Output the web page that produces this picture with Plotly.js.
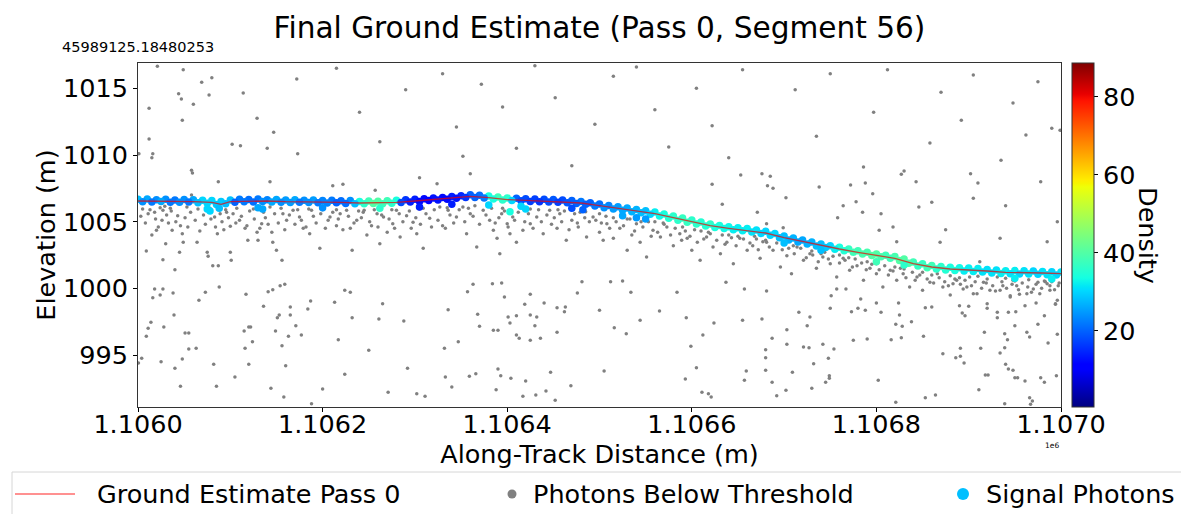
<!DOCTYPE html>
<html><head><meta charset="utf-8">
<script src="https://cdn.plot.ly/plotly-3.0.1.min.js"></script>
<style>html,body{margin:0;padding:0;background:#fff}#chart{width:1181px;height:514px}</style>
</head><body><div id="chart"></div>
<script>
// ---------------- data ----------------
const trackOrigin = 1106000; // along-track offsets below are metres from this point
const xTickVals = [1106000,1106200,1106400,1106600,1106800,1107000];
const xTickText = ['1.1060','1.1062','1.1064','1.1066','1.1068','1.1070'];
const yTickVals = [995,1000,1005,1010,1015];
const densityTicks = [20,40,60,80];
const legendLabels = ['Ground Estimate Pass 0','Photons Below Threshold','Signal Photons'];

// ground estimate (pass 0)
const groundOffset = [0,20,40,60,80,90,100,120,140,160,180,200,220,240,260,280,300,320,340,360,380,400,420,440,460,480,500,520,540,560,580,600,620,640,660,680,700,720,740,760,780,800,820,840,860,880,900,920,940,960,980,1000];
const groundElev = [1006.55,1006.55,1006.5,1006.5,1006.45,1006.3,1006.5,1006.55,1006.55,1006.5,1006.5,1006.45,1006.45,1006.4,1006.4,1006.45,1006.55,1006.65,1006.75,1006.9,1006.8,1006.65,1006.6,1006.55,1006.5,1006.4,1006.2,1006.0,1005.8,1005.6,1005.3,1005.0,1004.7,1004.5,1004.35,1004.15,1003.8,1003.5,1003.2,1002.95,1002.7,1002.45,1002.25,1001.85,1001.6,1001.45,1001.4,1001.3,1001.2,1001.2,1001.15,1001.1];

// signal photons: upper part of the band
const sigUpperOffset = [0,10,20,30,40,50,60,70,80,90,100,110,120,130,140,150,160,170,180,190,200,210,220,230,240,250,260,270,280,290,300,310,320,330,340,350,360,370,380,390,400,410,420,430,440,450,460,470,480,490,500,510,520,530,540,550,560,570,580,590,600,610,620,630,640,650,660,670,680,690,700,710,720,730,740,750,760,770,780,790,800,810,820,830,840,850,860,870,880,890,900,910,920,930,940,950,960,970,980,990,1000];
const sigUpperElev = [1006.68,1006.70,1006.65,1006.69,1006.62,1006.66,1006.64,1006.60,1006.58,1006.52,1006.62,1006.68,1006.66,1006.70,1006.65,1006.67,1006.62,1006.64,1006.60,1006.63,1006.58,1006.60,1006.56,1006.59,1006.52,1006.55,1006.53,1006.56,1006.60,1006.64,1006.68,1006.72,1006.78,1006.82,1006.88,1006.95,1007.02,1006.98,1006.92,1006.85,1006.78,1006.75,1006.72,1006.70,1006.68,1006.66,1006.62,1006.58,1006.52,1006.42,1006.32,1006.22,1006.12,1006.02,1005.92,1005.82,1005.72,1005.58,1005.42,1005.28,1005.12,1004.98,1004.82,1004.72,1004.62,1004.55,1004.48,1004.38,1004.28,1004.12,1003.92,1003.78,1003.62,1003.48,1003.32,1003.20,1003.08,1002.95,1002.82,1002.70,1002.58,1002.48,1002.38,1002.20,1001.98,1001.85,1001.72,1001.64,1001.58,1001.55,1001.52,1001.48,1001.42,1001.37,1001.32,1001.33,1001.32,1001.30,1001.27,1001.25,1001.22];
const sigUpperDensity = [28,26,24, 24,22,24,26, 30,30,29,28, 22,21,22,23, 26,25,26,24,25,23, 22,21,24,34,38,40,38, 34,16,14,12,13, 12,14,15,20,21,34, 38,36, 20,18,17,18,19,18,20,22, 20,21,23,25, 26,27,28,32,34, 36,37,36,35,36,34,33,32,32,31,30,30, 28,27,26,27,28,30, 34,37,38,39,40,38,39, 40,38,37,38,36,34,33,32,32,31, 31,32,32,31,30,31,30,31];

// signal photons: lower part of the band
const sigLowerOffset = [5,15,25,35,45,55,65,75,85,95,105,115,125,135,145,155,165,175,185,195,205,215,225,235,245,255,265,275,285,295,305,315,325,335,345,355,365,375,385,395,405,415,425,435,445,455,465,475,485,495,505,515,525,535,545,555,565,575,585,595,605,615,625,635,645,655,665,675,685,695,705,715,725,735,745,755,765,775,785,795,805,815,825,835,845,855,865,875,885,895,905,915,925,935,945,955,965,975,985,995];
const sigLowerElev = [1006.50,1006.48,1006.52,1006.46,1006.45,1006.48,1006.42,1006.38,1006.28,1006.35,1006.46,1006.50,1006.48,1006.52,1006.47,1006.46,1006.44,1006.46,1006.43,1006.42,1006.40,1006.41,1006.37,1006.35,1006.34,1006.36,1006.35,1006.39,1006.43,1006.48,1006.52,1006.58,1006.63,1006.68,1006.75,1006.82,1006.82,1006.78,1006.70,1006.62,1006.58,1006.56,1006.52,1006.50,1006.48,1006.45,1006.42,1006.37,1006.30,1006.18,1006.05,1005.95,1005.85,1005.75,1005.66,1005.55,1005.42,1005.26,1005.10,1004.96,1004.82,1004.68,1004.56,1004.48,1004.40,1004.32,1004.22,1004.12,1003.98,1003.80,1003.62,1003.48,1003.32,1003.18,1003.06,1002.94,1002.82,1002.70,1002.58,1002.46,1002.36,1002.25,1002.08,1001.88,1001.68,1001.55,1001.45,1001.38,1001.34,1001.30,1001.27,1001.22,1001.15,1001.12,1001.10,1001.08,1001.08,1001.05,1001.02,1001.00];
const sigLowerDensity = [24,22,26, 22,24,22,28, 30,29,28, 20,22,21,24,26, 24,25,22,24,22,23, 20,21,28,36,40,38,36, 18,14,12,11,13, 12,13,16,20,22,34, 36,30, 18,17,16,18,17,19,20, 20,22,24,25,26, 27,28,30,33,35, 36,37,36,35,34,33,32,32,31,30,30, 28, 27,26,27,28,29,32, 35,38,39,40,39,38,40, 39,37,38,36,35,34,32,32,31,31, 32,31,30,31,30,31,30];

// signal photons: scattered just below the band
const sigExtraOffset = [75,78,88,130,135,200,262,305,340,380,403,415,420,470,482,525,540,550,700,740,800,830,950,990];
const sigExtraElev = [1005.95,1005.8,1006.0,1006.05,1005.95,1006.05,1006.0,1006.1,1006.3,1006.25,1005.75,1006.15,1005.95,1006.0,1005.9,1005.45,1005.3,1005.2,1003.4,1002.85,1002.0,1001.75,1000.75,1000.7];
const sigExtraDensity = [30,30,28,26,26,24,36,14,14,30,34,30,30,18,20,26,25,25,28,28,38,36,32,32];

// photons below threshold [offset, elevation]
const noiseAbove = [[21,1016.65],[49,1016.4],[80,1015.8],[69,1015.45],[44,1014.6],[47,1014.2],[77,1014.5],[60,1013.8],[12,1013.5],[48,1012.6],[129,1012.75],[147,1011.7],[114,1014.65],[172,1015.7],[12,1011.2],[16,1010.1],[15,1009.8],[1,1010.1],[102,1010.8],[111,1010.7],[140,1010.5],[173,1010.1],[58,1008.85],[59,1008.65],[87,1008.0],[143,1008.0],[58,1007.0],[211,1007.7],[222,1007.8],[257,1007.35],[324,1007.85],
[215,1016.5],[240,1013.2],[262,1011.0],[290,1014.9],[305,1008.3],[330,1016.1],[345,1012.1],[352,1009.9],[360,1008.6],[372,1015.3],[395,1013.6],[410,1010.5],[430,1016.7],[452,1014.3],[470,1009.2],[495,1012.3],[515,1015.9],[540,1016.6],[560,1013.4],[575,1010.6],[605,1015.0],[622,1012.2],[640,1009.8],[655,1016.4],[676,1008.6],[682,1007.7],[688,1007.5],[702,1006.8],[712,1014.9],[735,1011.4],[738,1007.6],[750,1016.1],[764,1006.2],[778,1006.5],[786,1009.1],[797,1013.2],[805,1005.6],[812,1016.4],[822,1003.5],[830,1008.8],[846,1006.1],[858,1010.9],[870,1014.7],[875,1004.4],[892,1012.6],[905,1016.0],[910,1007.9],[912,1002.0],[935,1009.6],[940,1006.2],[948,1013.9],[962,1011.5],[975,1015.5],[978,1008.0],[990,1012.0],[996,1005.0],[985,1003.5],[999,1011.85],[653,1008.5],[685,1008.4],[622,1007.8],[633,1006.3],[772,1007.75],[788,1007.9],[796,1007.1],[827,1008.55],[843,1008.0],[902,1008.6],[860,1006.45],[905,1006.75],[934,1003.75],[869,1003.45],[803,1004.35],[818,1004.6],[758,1005.3],[785,1005.7],[671,1005.7],[681,1004.85],[699,1004.55]];

const noiseNearGround = [[13,1005.9],[18,1005.7],[24,1006.05],[27,1005.85],[29,1006.15],[26,1005.1],[20,1004.35],[15,1004.0],[9,1002.8],[27,1002.15],[40,1001.4],[30,1003.35],[37,1004.35],[43,1005.45],[46,1004.7],[48,1004.1],[49,1003.45],[45,1002.7],[53,1006.1],[64,1003.45],[75,1002.7],[76,1002.4],[78,1006.0],[83,1005.35],[89,1005.6],[86,1004.1],[81,1001.7],[87,1001.7],[96,1005.7],[100,1004.65],[100,1002.7],[101,1002.1],[107,1006.0],[110,1005.1],[116,1004.5],[119,1003.6],[129,1004.2],[130,1003.6],[134,1004.85],[136,1005.7],[143,1006.1],[145,1004.2],[146,1003.45],[150,1002.85],[156,1002.1],[157,1005.6],[161,1005.1],[168,1005.85],[175,1005.35],[179,1004.5],[186,1004.1],[188,1005.85],[197,1003.0],[200,1005.9],[208,1005.35],[215,1004.7],[219,1005.6],[226,1005.85],[230,1004.5],[232,1002.85],[237,1005.1],[244,1005.7],[248,1004.0],[253,1004.7],[259,1005.6],[262,1003.35],[266,1005.35],[270,1004.2],[276,1004.85],[280,1005.85],[284,1003.85],[291,1005.45],[298,1004.95],[302,1004.1],[309,1003.0],[309,1006.0],[316,1005.25],[327,1006.1],[333,1004.5],[336,1005.85],[345,1005.35],[352,1006.1],[356,1004.1],[360,1005.6],[367,1003.1],[374,1005.85],[381,1005.1],[385,1004.35],[389,1003.75],[392,1002.6],[394,1005.6],[400,1004.85],[403,1004.1],[406,1005.35],[410,1003.45],[414,1006.1],[417,1004.35],
[425,1004.85],[432,1005.35],[439,1004.1],[446,1005.85],[454,1004.5],[457,1005.6],[464,1003.6],[470,1005.1],[477,1004.6],[479,1005.7],[486,1003.85],[493,1005.35],[500,1004.2],[504,1003.6],[508,1004.85],[515,1003.75],[522,1004.5],[530,1002.85],[535,1004.0],[540,1004.85],[544,1003.45],[551,1002.35],[558,1004.35],[566,1003.85],[573,1004.6],[580,1003.2],[587,1004.1],[595,1003.75],[600,1002.85],[606,1003.45],[609,1002.1],[616,1003.85],[623,1003.1],[631,1002.6],[638,1003.45],[645,1001.85],[652,1003.75],[660,1002.85],[666,1003.2],[674,1002.25],[681,1003.45],[688,1002.85],[696,1001.6],[703,1002.45],[708,1001.1],[714,1003.1],[721,1002.1],[728,1002.6],[735,1001.5],[742,1002.35],[750,1001.85],[757,1000.85],[764,1002.25],[771,1001.35],[779,1001.7],[786,1000.6],[793,1001.5],[800,1001.1],[807,1000.1],[815,1001.35],[822,1000.6],[829,1001.1],[836,1000.1],[844,1000.85],[850,999.85],[858,1000.45],[866,1001.1],[872,1000.1],[880,999.5],[887,1000.6],[894,999.95],[901,1000.85],[909,999.6],[916,1000.45],[923,999.85],[931,1000.85],[937,1000.2],[945,999.35],[948,1000.6],[982,1000.55],[991,1000.6],[997,1000.2],[988,999.85],[994,998.85],[883,1000.35],[898,1000.1],[934,999.85],[952,1000.2],[970,999.95],[985,1000.35],[945,999.45],[963,999.6],[977,999.6],[905,999.6],
[5,1005.95],[35,1006.0],[65,1005.95],[95,1005.9],[125,1005.95],[155,1006.0],[185,1005.95],[215,1005.9],[245,1005.85],[275,1005.9],[305,1005.95],[335,1006.05],[365,1006.2],[395,1006.0],[425,1005.95],[455,1005.9],[485,1005.75],[500,1005.6],[515,1005.3],[530,1005.2],[545,1005.0],[560,1005.0],[590,1004.6],[620,1004.1],[650,1003.9],[680,1003.6],[710,1003.2],[740,1002.6],[770,1002.3],[800,1001.85],[830,1001.45],[860,1001.0],[890,1000.8],[920,1000.7],[950,1000.55],[975,1000.45],[570,1004.8],[610,1004.3],[640,1004.0],[670,1003.7],[700,1003.3],[730,1002.8],[760,1002.5],[790,1002.0],[820,1001.6],[850,1001.2],[880,1000.95],[910,1000.9],[940,1000.75],[965,1000.65],[990,1000.5]];

const noiseUnderBand = [[3,1005.4],[8,1004.9],[11,1005.6],[19,1005.2],[22,1004.6],[31,1005.5],[33,1004.9],[36,1005.8],[41,1005.0],[51,1005.3],[54,1004.6],[57,1005.7],[62,1005.1],[67,1004.3],[71,1005.5],[73,1004.8],[79,1005.2],[84,1004.6],[91,1005.0],[93,1004.4],[98,1005.3],[103,1005.6],[106,1004.9],[112,1005.4],[118,1004.7],[121,1005.8],[126,1005.2],[132,1004.5],[138,1005.3],[141,1004.8],[148,1005.6],[152,1004.9],[159,1004.4],[164,1005.5],[170,1004.8],[173,1005.9],[177,1005.1],[182,1004.6],[190,1005.4],[193,1004.9],[198,1005.6],[203,1004.5],[206,1005.1],[211,1005.7],[217,1005.2],[222,1004.4],[228,1005.4],[234,1004.9],[239,1005.8],[242,1005.3],[251,1005.0],[256,1005.9],[260,1004.6],[264,1005.5],[272,1005.2],[278,1004.5],[283,1005.6],[287,1005.0],[294,1005.8],[296,1004.5],[301,1005.3],[306,1004.8],[312,1005.6],[318,1004.6],[321,1005.9],[325,1005.1],[330,1004.7],[338,1005.5],[342,1004.9],[348,1005.9],[354,1005.0],[358,1006.0],[363,1005.4],[370,1004.8],[377,1005.5],[383,1006.0],[387,1004.9],[391,1005.3],[397,1005.8],[401,1004.6],[408,1005.1],[412,1005.7],[419,1005.0],[423,1005.6],[428,1004.5],[434,1005.9],[437,1005.0],[443,1005.5],[448,1004.8],[451,1005.3],[459,1005.0],[462,1005.8],[467,1004.4],[473,1005.6],[476,1004.9],[484,1005.3],[489,1005.0],[496,1005.1],[502,1004.9],[507,1005.4],
[511,1004.5],[518,1005.0],[526,1004.7],[533,1005.2],[538,1004.3],[547,1004.6],[553,1005.0],[556,1003.9],[563,1004.2],[569,1004.9],[577,1004.0],[582,1004.5],[589,1003.6],[593,1004.3],[598,1003.9],[603,1004.4],[613,1003.7],[618,1004.2],[627,1003.6],[633,1004.0],[636,1003.3],[643,1003.8],[648,1003.2],[656,1003.7],[663,1003.4],[668,1003.9],[672,1002.9],[677,1003.5],[684,1003.1],[692,1003.4],[698,1002.9],[705,1003.0],[711,1002.6],[718,1003.0],[724,1002.3],[731,1002.5],[737,1002.0],[744,1002.7],[748,1002.2],[753,1002.4],[760,1001.9],[766,1002.1],[774,1001.6],[777,1002.2],[784,1001.9],[789,1001.4],[795,1001.8],[803,1001.4],[809,1001.7],[813,1001.0],[818,1001.3],[826,1001.5],[832,1000.8],[839,1001.2],[842,1000.6],[847,1001.0],[855,1000.7],[862,1000.4],[868,1000.8],[874,1000.5],[878,1000.2],[885,1000.7],[891,1000.3],[896,1000.6],[903,1000.2],[907,1000.5],[914,1000.0],[919,1000.4],[926,1000.2],[929,999.8],[936,1000.5],[941,1000.0],[947,1000.3],[954,999.9],[958,1000.4],[964,1000.1],[968,999.7],[973,1000.3],[979,1000.0],[983,1000.5],[988,1000.2],[993,999.9],[998,1000.4]];

const noiseDeep = [[18,999.95],[27,999.95],[16,999.3],[24,999.5],[38,999.65],[39,998.0],[14,997.45],[11,997.0],[9,996.4],[28,997.1],[51,996.65],[55,996.65],[66,999.1],[73,999.7],[88,1000.1],[55,995.45],[63,995.5],[4,994.75],[0.5,994.4],[25,994.5],[48,994.7],[40,994.0],[46,992.65],[82,994.3],[85,992.65],[105,993.35],[117,999.55],[115,996.8],[116,995.5],[120,997.1],[122,997.1],[124,996.0],[120,994.3],[136,998.65],[141,999.75],[146,999.9],[154,1000.2],[159,1000.3],[151,997.8],[153,998.0],[165,998.6],[165,998.0],[149,996.8],[171,997.2],[163,996.4],[177,996.5],[156,995.7],[160,994.2],[144,992.5],[158,991.85],[187,999.05],[184,998.45],[188,991.35],[200,992.45],[213,998.95],[224,999.85],[230,999.7],[232,997.8],[217,996.15],[224,993.55],[250,995.35],[261,997.7],[265,998.85],[288,997.55],[292,994.0],[271,992.2],[302,992.1],[311,991.9],[332,995.5],[336,998.4],[347,996.0],[333,993.35],[340,992.6],[357,999.75],[363,1000.3],[368,998.05],[370,997.15],[359,993.4],[366,993.6],[384,1000.35],[394,1000.4],[397,999.35],[385,996.85],[390,996.85],[401,997.85],[403,997.4],[410,997.95],[410,996.5],[413,996.25],[390,993.95],[393,993.45],[404,993.25],[388,992.4],[419,998.8],[425,999.55],[425,998.0],[432,997.85],[430,997.2],[425,996.1],[436,996.25],[420,993.05],[417,991.9],[431,992.0],[442,992.3],[447,993.7],[452,991.6],[440,998.9],[454,998.55],[463,998.6],[462,998.25],[454,996.7],[469,992.7],[476,999.65],[481,1000.5],[500,998.35],[505,993.8],[516,997.05],[529,996.6],
[512,1000.5],[525,1000.55],[534,999.7],[544,997.6],[565,998.3],[584,999.7],[594,997.8],[599,995.65],[605,994.05],[593,993.2],[612,996.5],[624,997.4],[611,992.2],[618,992.1],[621,991.85],[637,1000.45],[657,999.95],[655,997.6],[659,993.8],[657,993.1],[676,997.7],[681,999.8],[687,996.25],[680,995.4],[680,994.8],[680,993.85],[687,992.95],[692,991.95],[703,996.9],[703,995.8],[709,993.7],[702,992.35],[716,998.2],[721,995.6],[727,995.55],[725,997.2],[728,997.85],[732,994.35],[730,992.5],[742,995.8],[748,994.75],[749,993.45],[749,993.25],[745,992.95],[754,995.45],[750,998.5],[751,999.45],[757,999.95],[767,999.95],[773,998.25],[780,998.5],[783,999.2],[788,998.35],[775,996.1],[790,996.2],[800,998.9],[805,998.2],[802,993.1],[816,996.15],[827,996.3],[825,998.0],[821,997.3],[828,997.15],[824,998.9],[838,997.5],[821,991.45],[851,996.4],[853,998.55],[860,998.6],[853,991.8],[864,992.0],[872,995.1],[886,994.8],[891,995.5],[891,994.9],[895,994.4],[893,998.15],[896,997.95],[890,998.7],[900,998.65],[911,992.4],[913,995.5],[917,996.7],[918,993.5],[921,993.5],[920,998.85],[920,998.5],[931,998.2],[931,997.8],[934,995.15],[939,996.6],[942,996.15],[939,995.55],[940,994.3],[943,993.95],[948,993.85],[950,993.3],[953,993.3],[961,993.05],[939,991.35],[966,991.8],[969,991.55],[967,991.3],[950,997.2],[963,996.7],[966,996.35],[975,997.3],[982,997.95],[986,995.9],[978,993.3],[982,992.95],[996,996.55],[995,993.45],[996,999.1],[994,998.8],[973,998.9],[961,998.7],[951,998.25],[955,999.55],[943,998.2]];

// ---------------- styling ----------------
const jet = [[0,'rgb(0,0,128)'],[0.11,'rgb(0,0,255)'],[0.125,'rgb(0,0,255)'],[0.34,'rgb(0,219,255)'],[0.35,'rgb(0,230,247)'],[0.375,'rgb(21,255,226)'],[0.64,'rgb(239,255,8)'],[0.65,'rgb(247,245,0)'],[0.66,'rgb(255,236,0)'],[0.89,'rgb(255,19,0)'],[0.91,'rgb(232,0,0)'],[1,'rgb(128,0,0)']];
const FONT = 'DejaVu Sans, Liberation Sans, sans-serif';
const BIG = 25.5;
const M = {l:138, r:120, t:63, b:107};
const PW = 1181 - M.l - M.r, PH = 514 - M.t - M.b;
const px2x = px => (px - M.l) / PW;         // pixel -> paper x
const px2y = py => (514 - M.b - py) / PH;   // pixel -> paper y

const allNoise = noiseAbove.concat(noiseNearGround, noiseUnderBand, noiseDeep);
const toX = d => trackOrigin + d;

const traces = [
  {type:'scatter', mode:'markers', name:legendLabels[1], showlegend:false, hoverinfo:'skip',
   x: allNoise.map(p => toX(p[0])), y: allNoise.map(p => p[1]),
   marker:{color:'#808080', size:3.5, line:{width:0}}},
  {type:'scatter', mode:'markers', name:legendLabels[2], showlegend:false, hoverinfo:'skip',
   x: sigUpperOffset.concat(sigLowerOffset, sigExtraOffset).map(toX),
   y: sigUpperElev.concat(sigLowerElev, sigExtraElev),
   marker:{size:7.5, line:{width:0},
     color: sigUpperDensity.concat(sigLowerDensity, sigExtraDensity),
     colorscale: jet, cmin:0.5, cmax:88.6, showscale:true,
     colorbar:{thickness:22, thicknessmode:'pixels', len:1, lenmode:'fraction',
       x:1.0115, xanchor:'left', y:0.5, yanchor:'middle', xpad:0, ypad:0,
       outlinewidth:1, outlinecolor:'#333', ticks:'outside', ticklen:4, tickwidth:1, tickcolor:'#000',
       tickvals: densityTicks, tickfont:{size:BIG, color:'#000', family:FONT}}}},
  {type:'scatter', mode:'lines', name:legendLabels[0], showlegend:false, hoverinfo:'skip',
   x: groundOffset.map(toX), y: groundElev,
   line:{color:'rgba(240,0,0,0.7)', width:1.3}}
];

const axisCommon = {showgrid:false, zeroline:false, showline:true, mirror:true, linecolor:'#333', linewidth:1,
  ticks:'outside', ticklen:4, tickwidth:1, tickcolor:'#000', tickfont:{size:BIG, color:'#000', family:FONT}};

const legendY = px2y(494);
const shapes = [
  {type:'rect', xref:'paper', yref:'paper', x0:px2x(12), x1:px2x(1192), y0:px2y(530), y1:px2y(472),
   line:{color:'#d6d6d6', width:1}, fillcolor:'#ffffff', layer:'below'},
  {type:'line', xref:'paper', yref:'paper', x0:px2x(15), x1:px2x(75), y0:legendY, y1:legendY,
   line:{color:'rgba(255,60,60,0.75)', width:1.5}},
  {type:'circle', xref:'paper', yref:'paper', x0:px2x(507.5), x1:px2x(516.5), y0:px2y(498.5), y1:px2y(489.5),
   fillcolor:'#808080', line:{width:0}},
  {type:'circle', xref:'paper', yref:'paper', x0:px2x(957), x1:px2x(969), y0:px2y(500), y1:px2y(488),
   fillcolor:'#00bfff', line:{width:0}}
];

const annotations = [
  {text:'45989125.18480253', xref:'paper', yref:'paper', x:0, y:1, xanchor:'center', yanchor:'bottom',
   yshift:6, showarrow:false, font:{size:14.5, family:FONT, color:'#000'}},
  {text:'1e6', xref:'paper', yref:'paper', x:1, y:0, xanchor:'right', yanchor:'top',
   yshift:-32, showarrow:false, font:{size:7.5, family:FONT, color:'#000'}},
  {text:'Density', xref:'paper', yref:'paper', x:px2x(1148), y:0.5, xanchor:'center', yanchor:'middle',
   textangle:90, showarrow:false, font:{size:BIG, family:FONT, color:'#000'}},
  {text:legendLabels[0], xref:'paper', yref:'paper', x:px2x(95), y:legendY, xanchor:'left', yanchor:'middle',
   showarrow:false, font:{size:BIG, family:FONT, color:'#000'}},
  {text:legendLabels[1], xref:'paper', yref:'paper', x:px2x(531), y:legendY, xanchor:'left', yanchor:'middle',
   showarrow:false, font:{size:BIG, family:FONT, color:'#000'}},
  {text:legendLabels[2], xref:'paper', yref:'paper', x:px2x(984), y:legendY, xanchor:'left', yanchor:'middle',
   showarrow:false, font:{size:BIG, family:FONT, color:'#000'}}
];

const layout = {
  width:1181, height:514, paper_bgcolor:'#fff', plot_bgcolor:'#fff',
  margin:M, showlegend:false,
  font:{family:FONT, color:'#000'},
  title:{text:'Final Ground Estimate (Pass 0, Segment 56)', font:{size:29.6, family:FONT, color:'#000'},
    x:0.5, xref:'paper', xanchor:'center', y:1-28/514, yref:'container', yanchor:'middle'},
  xaxis: Object.assign({}, axisCommon, {range:[1106000,1107000], tickvals:xTickVals, ticktext:xTickText,
    ticklabelstandoff:-10,
    title:{text:'Along-Track Distance (m)', font:{size:BIG, family:FONT, color:'#000'}, standoff:5}}),
  yaxis: Object.assign({}, axisCommon, {range:[991.1,1016.9], tickvals:yTickVals,
    title:{text:'Elevation (m)', font:{size:BIG, family:FONT, color:'#000'}, standoff:0}}),
  shapes: shapes,
  annotations: annotations
};

Plotly.newPlot('chart', traces, layout, {displayModeBar:false, staticPlot:true});
</script>
</body></html>
